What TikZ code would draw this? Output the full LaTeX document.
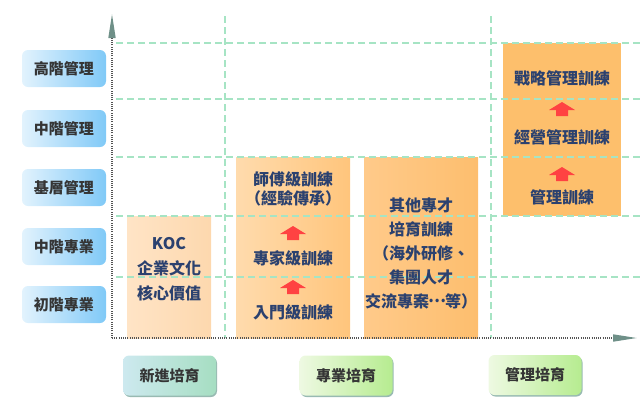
\documentclass[tikz,border=0pt]{standalone}
\usepackage{fontspec}
\setmainfont{Noto Sans CJK TC}
\usetikzlibrary{arrows.meta,shadows}
\definecolor{navy}{HTML}{2B416F}
\definecolor{labelgray}{HTML}{353535}
\definecolor{dashgreen}{HTML}{A6E4C4}
\definecolor{axisgray}{HTML}{555555}
\definecolor{arrowgray}{HTML}{6F9088}
\definecolor{redarrow}{HTML}{FF4242}
\definecolor{blueL}{HTML}{E2F3FD}
\definecolor{blueM}{HTML}{A6DAFA}
\definecolor{blueD}{HTML}{80C9F7}
\definecolor{tealL}{HTML}{CDE9EF}
\definecolor{tealD}{HTML}{A6DEC2}
\definecolor{greenL}{HTML}{EEF9E2}
\definecolor{greenD}{HTML}{B6EC90}
\definecolor{btnshadow}{HTML}{8DB3AA}
\definecolor{kocL}{HTML}{FFE4C6}
\definecolor{kocR}{HTML}{FDD8AE}
\definecolor{proL}{HTML}{FFDBAD}
\definecolor{proR}{HTML}{FFC57C}
\definecolor{othL}{HTML}{FFCA8A}
\definecolor{othR}{HTML}{FDBE6E}
\definecolor{mgmt}{HTML}{FDBF6C}
\newcommand\midell{\makebox[1em]{\raisebox{0.3em}{…}}}
\tikzset{
  lbl/.style={rectangle, rounded corners=6pt, minimum width=84pt, minimum height=37pt,
    inner sep=0pt, left color=blueL, middle color=blueM, right color=blueD,
    text=labelgray, font=\fontsize{15}{18}\selectfont\bfseries},
  btnbase/.style={rectangle, rounded corners=6pt, minimum width=93pt, minimum height=40pt,
    inner sep=0pt, text=labelgray, font=\fontsize{15}{18}\selectfont\bfseries,
    drop shadow={shadow xshift=1pt, shadow yshift=-1.5pt, fill=btnshadow, opacity=0.9}},
  btnteal/.style={btnbase, left color=tealL, right color=tealD},
  btngreen/.style={btnbase, left color=greenL, right color=greenD},
  obox/.style={rectangle, anchor=north west, inner sep=0pt, draw=none},
  btxt/.style={text=navy, inner sep=0pt, align=center, font=\fontsize{16}{24}\selectfont\bfseries},
  gridline/.style={draw=dashgreen, line width=1.5pt, dash pattern=on 7pt off 4pt},
  axisline/.style={draw=axisgray, line width=1.6pt, dash pattern=on 1pt off 1.2pt},
  redup/.pic={\fill[redarrow] (0,0) -- (13,8) -- (6,8) -- (6,14) -- (-6,14) -- (-6,8) -- (-13,8) -- cycle;}
}
\begin{document}
\begin{tikzpicture}[x=1pt,y=-1pt]
\useasboundingbox (0,0) rectangle (641,410);
% orange boxes
\node[obox, left color=kocL, right color=kocR, minimum width=84pt, minimum height=122pt] (kocbox) at (127,216) {};
\node[obox, left color=proL, right color=proR, minimum width=114pt, minimum height=181pt] (probox) at (236,157) {};
\node[obox, left color=othL, right color=othR, minimum width=114pt, minimum height=181pt] (othbox) at (364,157) {};
\node[obox, fill=mgmt, minimum width=118pt, minimum height=173pt] (mgmtbox) at (503,43) {};
% grid
\foreach \yy in {43,99,157,216,277} \draw[gridline] (116,\yy) -- (641,\yy);
\foreach \xx in {225,491} \draw[gridline] (\xx,16) -- (\xx,338);
% axes
\coordinate (O) at (112,338);
\coordinate (ytip) at (112,14);
\coordinate (xtip) at (637,338);
\draw[axisline, -{Triangle[length=24pt,width=7pt,color=arrowgray]}] (O) -- (ytip);
\draw[axisline, -{Triangle[length=24pt,width=7pt,color=arrowgray]}] (O) -- (xtip);
% left labels
\node[lbl] (l1) at (64,68.5) {高階管理};
\node[lbl] (l2) at (64,128.5) {中階管理};
\node[lbl] (l3) at (64,187.5) {基層管理};
\node[lbl] (l4) at (64,246.5) {中階專業};
\node[lbl] (l5) at (64,304.5) {初階專業};
% bottom buttons
\node[btnteal] (b1) at (169.5,375.5) {新進培育};
\node[btngreen] (b2) at (346,375.5) {專業培育};
\node[btngreen] (b3) at (535,375) {管理培育};
% box texts
\node[btxt, font=\fontsize{16}{25}\selectfont\bfseries] (koct) at (169,269) {KOC\\企業文化\\核心價值};
\node[btxt, font=\fontsize{16}{19}\selectfont\bfseries] (p3) at (293,188.5) {師傅級訓練\\（經驗傳承）};
\node[btxt] (p2) at (293,258) {專家級訓練};
\node[btxt] (p1) at (293,312) {入門級訓練};
\node[btxt] (oth) at (421,253.5) {其他專才\\培育訓練\\（海外研修、\\集團人才\\交流專案\midell 等）};
\node[btxt] (m3) at (562,78) {戰略管理訓練};
\node[btxt] (m2) at (562,137) {經營管理訓練};
\node[btxt] (m1) at (562,197) {管理訓練};
% red arrows
\pic at (293,226) {redup};
\pic at (293,280) {redup};
\pic at (562,102) {redup};
\pic at (562,167) {redup};
\end{tikzpicture}
\end{document}
